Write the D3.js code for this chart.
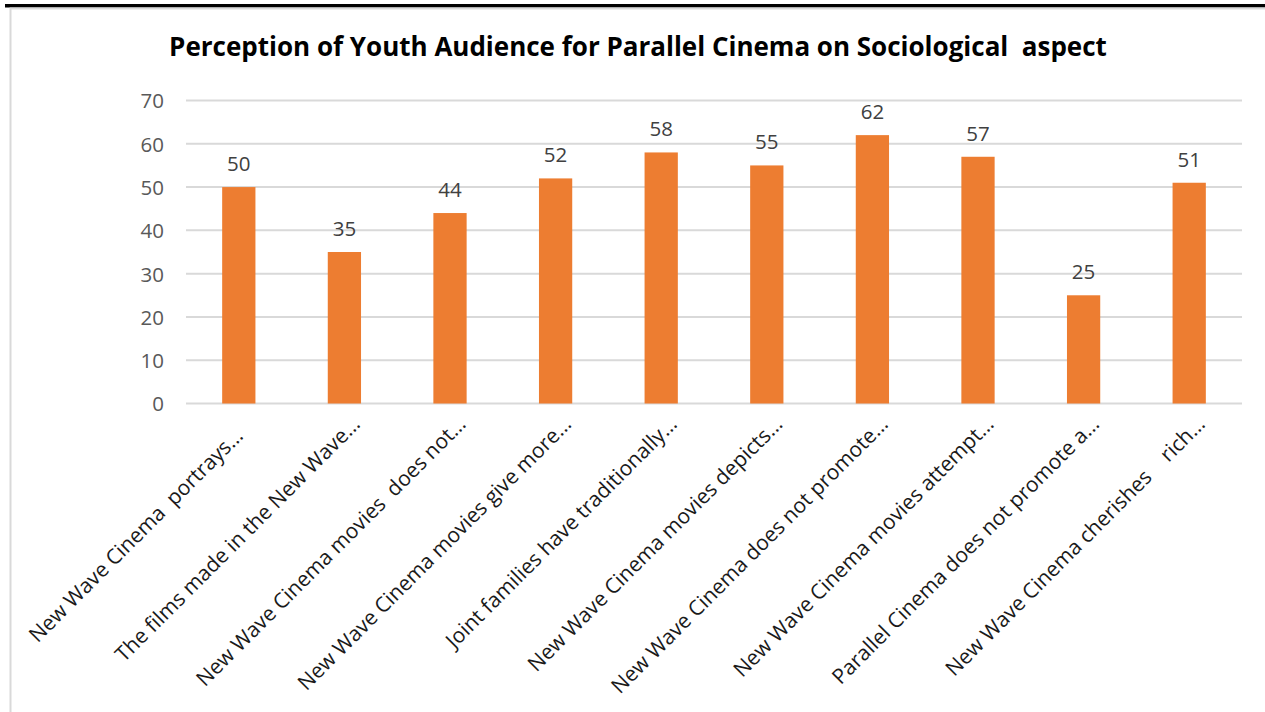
<!DOCTYPE html>
<html>
<head>
<meta charset="utf-8">
<script src="https://cdn.jsdelivr.net/npm/d3@7"></script>
<style>
  html, body { margin: 0; padding: 0; background: #fff; }
  text { font-family: "Open Sans", Lato, sans-serif; }
</style>
</head>
<body>
<div id="wrapper"></div>
<script>
const categories = [
    "New Wave Cinema  portrays…\u00a0\u00a0\u00a0",
    "The films made in the New Wave…",
    "New Wave Cinema movies  does not…",
    "New Wave Cinema movies give more…",
    "Joint families have traditionally…",
    "New Wave Cinema movies depicts…",
    "New Wave Cinema does not promote…",
    "New Wave Cinema movies attempt…",
    "Parallel Cinema does not promote a…",
    "New Wave Cinema cherishes    rich…"
];
const values = [50, 35, 44, 52, 58, 55, 62, 57, 25, 51];
const yTicks = [0, 10, 20, 30, 40, 50, 60, 70];
const title = "Perception of Youth Audience for Parallel Cinema on Sociological  aspect";

function buildPlot() {
    const dimension = {
        width: 1265,
        height: 712,
        margin: { top: 100.5, left: 186, bottom: 308.5, right: 23 }
    };
    dimension.boundedWidth = dimension.width - dimension.margin.left - dimension.margin.right;
    dimension.boundedHeight = dimension.height - dimension.margin.top - dimension.margin.bottom;

    const svg = d3.select("#wrapper").append("svg")
        .attr("width", dimension.width)
        .attr("height", dimension.height);

    // page frame: black rule and chart area border
    svg.append("rect")
        .attr("x", 5).attr("y", 4)
        .attr("width", dimension.width).attr("height", 3.5)
        .attr("fill", "#000");
    svg.append("path")
        .attr("d", `M10.5,${dimension.height} V8.5 H${dimension.width}`)
        .attr("fill", "none")
        .attr("stroke", "#d9d9d9")
        .attr("stroke-width", 2);

    svg.append("text")
        .attr("x", 638)
        .attr("y", 56)
        .attr("text-anchor", "middle")
        .attr("font-size", "26px")
        .attr("font-weight", "bold")
        .attr("fill", "#000")
        .style("white-space", "pre")
        .text(title);

    const bounds = svg.append("g")
        .attr("transform", `translate(${dimension.margin.left},${dimension.margin.top})`);

    const xScaler = d3.scaleBand()
        .domain(d3.range(categories.length))
        .range([0, dimension.boundedWidth])
        .paddingInner(0.685)
        .paddingOuter(0.3425);

    const yScaler = d3.scaleLinear()
        .domain([0, 70])
        .range([dimension.boundedHeight, 0]);

    // gridlines
    bounds.append("g")
        .selectAll("line")
        .data(yTicks)
        .enter()
        .append("line")
        .attr("x1", 0)
        .attr("x2", dimension.boundedWidth)
        .attr("y1", d => yScaler(d))
        .attr("y2", d => yScaler(d))
        .attr("stroke", "#d9d9d9")
        .attr("stroke-width", 2);

    const yAxisGen = d3.axisLeft(yScaler)
        .tickValues(yTicks)
        .tickSize(0)
        .tickPadding(22);
    const yAxis = bounds.append("g").call(yAxisGen);
    yAxis.select(".domain").remove();
    yAxis.selectAll("text")
        .attr("font-size", "20.5px")
        .attr("fill", "#595959")
        .attr("dy", "0.36em");

    const bars = bounds.append("g")
        .selectAll("rect")
        .data(values)
        .enter()
        .append("rect")
        .attr("x", (d, i) => xScaler(i))
        .attr("y", d => yScaler(d))
        .attr("width", xScaler.bandwidth())
        .attr("height", d => dimension.boundedHeight - yScaler(d))
        .attr("fill", "#ed7d31");

    bounds.append("g")
        .selectAll("text")
        .data(values)
        .enter()
        .append("text")
        .attr("x", (d, i) => xScaler(i) + xScaler.bandwidth() / 2)
        .attr("y", d => yScaler(d) - 16)
        .attr("text-anchor", "middle")
        .attr("font-size", "20.5px")
        .attr("fill", "#404040")
        .text(d => d);

    bounds.append("g")
        .selectAll("text")
        .data(categories)
        .enter()
        .append("text")
        .attr("transform", (d, i) =>
            `translate(${xScaler(i) + xScaler.bandwidth() / 2 + 17},${dimension.boundedHeight + 22}) rotate(-45)`)
        .attr("text-anchor", "end")
        .attr("font-size", "21px")
        .attr("fill", "#1a1a1a")
        .style("white-space", "pre")
        .text(d => d);
}

buildPlot();
</script>
</body>
</html>
